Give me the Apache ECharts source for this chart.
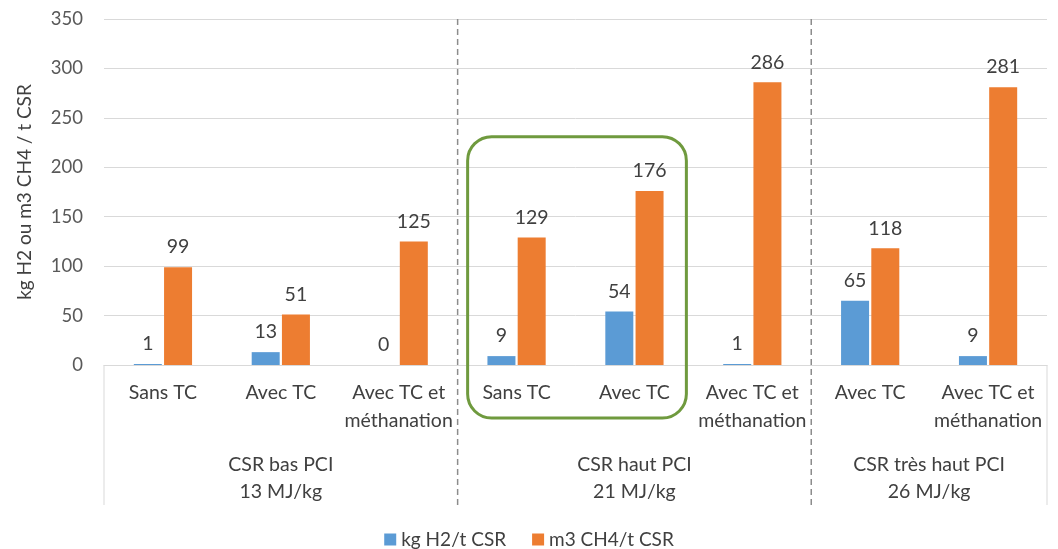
<!DOCTYPE html>
<html>
<head>
<meta charset="utf-8">
<script src="https://cdn.jsdelivr.net/npm/echarts@6/dist/echarts.min.js"></script>
<style>
html,body{margin:0;padding:0;background:#fff;}
#chart{width:1058px;height:549px;}
</style>
</head>
<body>
<div id="chart"></div>
<script>
const categories = ['Sans TC', 'Avec TC', 'Avec TC et\nméthanation', 'Sans TC', 'Avec TC', 'Avec TC et\nméthanation', 'Avec TC', 'Avec TC et\nméthanation'];
const h2Values = [1, 13, 0, 9, 54, 1, 65, 9];
const ch4Values = [99, 51, 125, 129, 176, 286, 118, 281];
const seriesNames = ['kg H2/t CSR', 'm3 CH4/t CSR'];
const groupLabels = ['CSR bas PCI\n13 MJ/kg', 'CSR haut PCI\n21 MJ/kg', 'CSR très haut PCI\n26 MJ/kg'];
const groupSpans = [[0, 2], [3, 5], [6, 7]];
const highlightSpan = [3, 4];
const highlightTop = 231;
const yTicks = {min: 0, max: 350, interval: 50};
const yTitle = 'kg H2 ou m3 CH4 / t CSR';

const FONT = 'Lato';
const chart = echarts.init(document.getElementById('chart'));
const labelStyle = {show: true, position: 'top', distance: 10, color: '#404040', fontSize: 19.5, fontFamily: FONT};

chart.setOption({
  animation: false,
  grid: {left: 104, right: 11, top: 19, bottom: 184},
  legend: {
    top: 525, left: 'center', itemWidth: 12, itemHeight: 12, itemGap: 26,
    icon: 'rect',
    textStyle: {color: '#404040', fontSize: 19, fontFamily: FONT},
    data: seriesNames
  },
  xAxis: {
    type: 'category', data: categories,
    axisLine: {lineStyle: {color: '#d9d9d9'}},
    axisTick: {show: false},
    axisLabel: {color: '#404040', fontSize: 19.5, fontFamily: FONT, lineHeight: 28, margin: 14, interval: 0}
  },
  yAxis: {
    type: 'value', min: yTicks.min, max: yTicks.max, interval: yTicks.interval,
    name: yTitle, nameLocation: 'middle', nameGap: 70,
    nameTextStyle: {color: '#404040', fontSize: 19, fontFamily: FONT},
    axisLine: {show: false}, axisTick: {show: false},
    axisLabel: {color: '#595959', fontSize: 18.5, fontFamily: FONT, margin: 21},
    splitLine: {lineStyle: {color: '#d9d9d9'}}
  },
  series: [
    {name: seriesNames[0], type: 'bar', data: h2Values, barWidth: 28, barGap: '8%',
     itemStyle: {color: '#5b9bd5'}, label: labelStyle},
    {name: seriesNames[1], type: 'bar', data: ch4Values, barWidth: 28, barGap: '8%',
     itemStyle: {color: '#ed7d31'}, label: labelStyle}
  ]
});

function xAt(i) { return chart.convertToPixel({xAxisIndex: 0}, i); }
const step = xAt(1) - xAt(0);
const y0 = chart.convertToPixel({yAxisIndex: 0}, 0);
const yTop = chart.convertToPixel({yAxisIndex: 0}, yTicks.max);
const leftEdge = xAt(0) - step / 2;
const rightEdge = xAt(categories.length - 1) + step / 2;
const bottomY = y0 + 140;

const graphics = [];
graphics.push({type: 'line', shape: {x1: leftEdge, y1: y0, x2: leftEdge, y2: bottomY}, style: {stroke: '#d9d9d9', lineWidth: 1}});
graphics.push({type: 'line', shape: {x1: rightEdge, y1: y0, x2: rightEdge, y2: bottomY}, style: {stroke: '#d9d9d9', lineWidth: 1}});
for (let g = 1; g < groupSpans.length; g++) {
  const x = xAt(groupSpans[g][0]) - step / 2;
  graphics.push({type: 'line', shape: {x1: x, y1: yTop, x2: x, y2: bottomY},
    style: {stroke: '#8c8c8c', lineWidth: 1.5, lineDash: [6, 4]}});
}
groupSpans.forEach((s, g) => {
  const cx = (xAt(s[0]) + xAt(s[1])) / 2;
  graphics.push({type: 'text', x: cx, y: y0 + 86,
    style: {text: groupLabels[g], fill: '#404040', fontSize: 19.5, fontFamily: FONT,
      align: 'center', verticalAlign: 'top', lineHeight: 27}});
});
const hx1 = xAt(highlightSpan[0]) - step / 2 + 10;
const hx2 = xAt(highlightSpan[1]) + step / 2 - 7;
const hy1 = chart.convertToPixel({yAxisIndex: 0}, highlightTop);
const hy2 = y0 + 53;
graphics.push({type: 'rect', shape: {x: hx1, y: hy1, width: hx2 - hx1, height: hy2 - hy1, r: 24},
  style: {fill: 'none', stroke: '#6f9a3e', lineWidth: 3}, z: 10});

chart.setOption({graphic: graphics});
</script>
</body>
</html>
